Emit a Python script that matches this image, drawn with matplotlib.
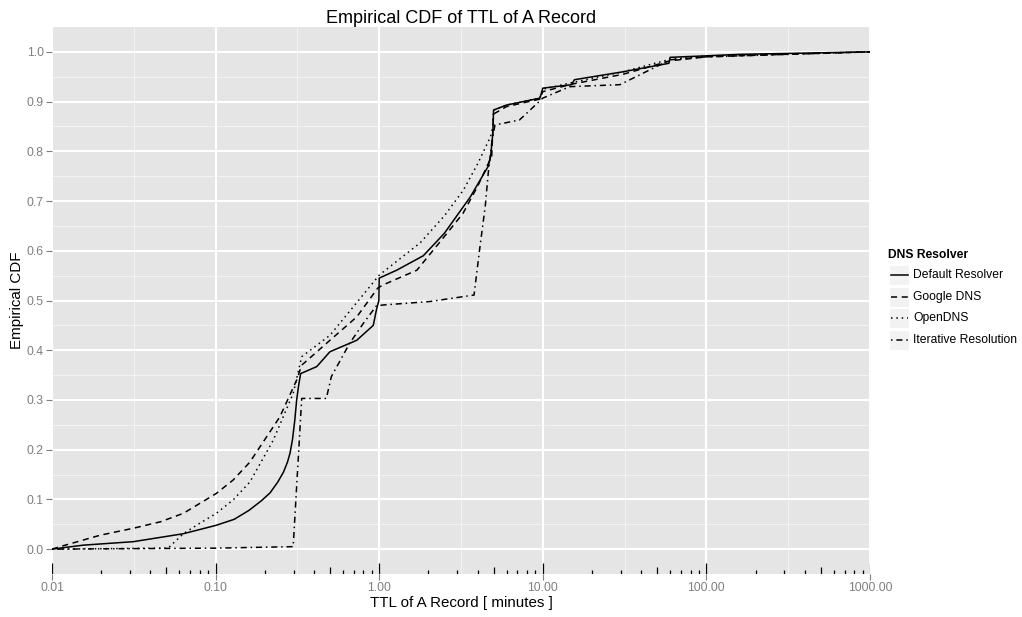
import numpy as np
import matplotlib.pyplot as plt
from matplotlib.patches import Rectangle
from matplotlib.lines import Line2D
import matplotlib.transforms as mtransforms

plt.rcParams['font.family'] = ['Liberation Sans', 'DejaVu Sans']

# ECDF curves (x in minutes, y = cumulative fraction)
default_x = [0.01, 0.0155, 0.0314, 0.0635, 0.101, 0.13, 0.16, 0.19, 0.215, 0.24, 0.26, 0.275, 0.285,
             0.295, 0.305, 0.313, 0.322, 0.331, 0.415, 0.5, 0.729, 0.92, 0.96, 0.995, 1.0, 1.28, 1.86,
             2.5, 3.6, 4.64, 4.8, 4.95, 5.0, 6.0, 9.6, 10.0, 15.0, 15.6, 31, 59, 60, 100, 160, 1000]
default_y = [0.0, 0.008, 0.015, 0.031, 0.048, 0.06, 0.078, 0.097, 0.113, 0.135, 0.155, 0.175, 0.193,
             0.22, 0.26, 0.30, 0.33, 0.353, 0.367, 0.397, 0.42, 0.45, 0.48, 0.50, 0.545, 0.561, 0.59,
             0.635, 0.708, 0.77, 0.79, 0.836, 0.883, 0.893, 0.907, 0.927, 0.934, 0.944, 0.96, 0.977,
             0.989, 0.992, 0.995, 1.0]

google_x = [0.01, 0.0112, 0.0197, 0.0314, 0.046, 0.0635, 0.0801, 0.101, 0.128, 0.162, 0.187, 0.247, 0.313,
            0.336, 0.5, 0.729, 0.98, 1.05, 1.7, 2.45, 3.25, 4.0, 4.87, 5.0, 6.0, 9.6, 10.0, 15, 31, 60,
            100, 300, 1000]
google_y = [0.0, 0.005, 0.028, 0.042, 0.055, 0.072, 0.092, 0.112, 0.139, 0.175, 0.206, 0.266, 0.34,
            0.37, 0.42, 0.467, 0.525, 0.531, 0.561, 0.625, 0.675, 0.73, 0.79, 0.875, 0.89, 0.905, 0.92, 0.935,
            0.955, 0.982, 0.99, 0.995, 1.0]

open_x = [0.01, 0.0512, 0.0635, 0.080, 0.101, 0.128, 0.162, 0.225, 0.298, 0.336, 0.5, 1.0, 1.78, 2.5,
          3.27, 4.0, 4.8, 4.95, 5.0, 6.0, 9.6, 10.0, 15, 31, 60, 100, 1000]
open_y = [0.0, 0.002, 0.031, 0.052, 0.072, 0.099, 0.135, 0.219, 0.313, 0.387, 0.43, 0.551, 0.616, 0.67,
          0.722, 0.775, 0.83, 0.85, 0.883, 0.893, 0.907, 0.925, 0.938, 0.96, 0.985, 0.992, 1.0]

iter_x = [0.01, 0.1, 0.298, 0.336, 0.475, 0.51, 0.66, 0.8, 0.96, 1.06, 2.05, 3.8, 4.1, 4.45, 4.64, 4.87,
          5.1, 7.2, 10.0, 14.6, 29.6, 60, 100, 1000]
iter_y = [0.0, 0.002, 0.005, 0.303, 0.303, 0.347, 0.414, 0.454, 0.489, 0.491, 0.498, 0.511, 0.60, 0.69,
          0.756, 0.816, 0.853, 0.863, 0.907, 0.93, 0.934, 0.984, 0.99, 1.0]

series_names = ["Default Resolver", "Google DNS", "OpenDNS", "Iterative Resolution"]
xticks = [0.01, 0.1, 1, 10, 100, 1000]
xtick_labels = ["0.01", "0.10", "1.00", "10.00", "100.00", "1000.00"]
yticks = [0.0, 0.1, 0.2, 0.3, 0.4, 0.5, 0.6, 0.7, 0.8, 0.9, 1.0]

styles = ['-', (0, (4, 3)), (0, (1, 2.5)), (0, (1, 2.5, 4, 2.5))]
series = [(default_x, default_y), (google_x, google_y), (open_x, open_y), (iter_x, iter_y)]

fig = plt.figure(figsize=(10.22, 6.17), dpi=100)
ax = fig.add_axes([52 / 1022, 1 - 574 / 617, (870 - 52) / 1022, (574 - 27) / 617])
ax.set_facecolor('#E5E5E5')
ax.set_xscale('log')
ax.set_xlim(0.01, 1000)
ax.set_ylim(-0.05, 1.05)

# grid: major white, minor lighter
for xv in xticks:
    ax.axvline(xv, color='white', lw=1.5, zorder=0.5)
for xv in [10 ** (k + 0.5) for k in range(-2, 3)]:
    ax.axvline(xv, color='#F2F2F2', lw=0.8, zorder=0.4)
for yv in yticks:
    ax.axhline(yv, color='white', lw=1.5, zorder=0.5)
for yv in np.arange(0.05, 1.0, 0.1):
    ax.axhline(yv, color='#F2F2F2', lw=0.8, zorder=0.4)

for (xs, ys), ls, name in zip(series, styles, series_names):
    ax.plot(xs, ys, color='black', lw=1.1, linestyle=ls, label=name, zorder=3)

# log ticks annotation along the bottom
trans = mtransforms.blended_transform_factory(ax.transData, ax.transAxes)
for dec in [0.01, 0.1, 1, 10, 100]:
    for m in range(1, 10):
        h = 0.020 if m == 1 else (0.0135 if m == 5 else 0.007)
        ax.plot([dec * m, dec * m], [0, h], color='black', lw=0.9, transform=trans,
                solid_capstyle='butt', zorder=4)
ax.plot([1000, 1000], [0, 0.020], color='black', lw=0.9, transform=trans, solid_capstyle='butt', zorder=4)

ax.set_xticks(xticks)
ax.set_xticklabels(xtick_labels)
ax.set_xticks([], minor=True)
ax.set_yticks(yticks)
ax.set_yticklabels(["%.1f" % v for v in yticks])
ax.tick_params(axis='both', colors='#7F7F7F', labelcolor='#7F7F7F', labelsize=8.7, length=4, width=0.8,
               pad=2)
for sp in ax.spines.values():
    sp.set_visible(False)

ax.set_xlabel("TTL of A Record [ minutes ]", fontsize=10.9, labelpad=1)
ax.set_ylabel("Empirical CDF", fontsize=10.9, labelpad=2)
ax.set_title("Empirical CDF of TTL of A Record", fontsize=13, pad=3)

# legend drawn by hand to mimic ggplot keys
fig.text(888 / 1022, 1 - 255 / 617, "DNS Resolver", fontsize=8.7, fontweight='bold', va='center')
key_w, key_h = 20 / 1022, 20 / 617
for i, (ls, name) in enumerate(zip(styles, series_names)):
    yc = 1 - (275 + i * 21.7) / 617
    fig.add_artist(Rectangle((889 / 1022, yc - key_h / 2), key_w, key_h, facecolor='#F2F2F2',
                             edgecolor='white', lw=0.8, transform=fig.transFigure))
    fig.add_artist(Line2D([890.5 / 1022, 907.5 / 1022], [yc, yc], color='black', lw=1.1, linestyle=ls,
                          transform=fig.transFigure))
    fig.text(913 / 1022, yc, name, fontsize=8.7, va='center')

fig.savefig('out.png', dpi=100)
